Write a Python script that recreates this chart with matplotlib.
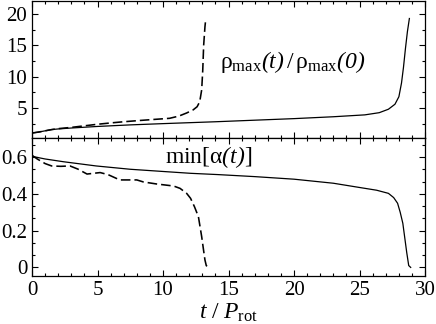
import matplotlib
matplotlib.use("Agg")
import matplotlib.pyplot as plt
from matplotlib.ticker import MultipleLocator, AutoMinorLocator

# data
t_rho_solid = [0, 0.5, 1, 1.5, 2, 3, 5, 7.5, 10, 12, 14, 17, 20, 23, 25.4, 26.5,
               27.2, 27.7, 28.0, 28.2, 28.35, 28.5, 28.65, 28.8]
rho_solid = [1.0, 1.15, 1.35, 1.55, 1.65, 1.8, 2.05, 2.3, 2.5, 2.65, 2.8, 3.05,
             3.3, 3.6, 3.9, 4.25, 4.8, 5.6, 6.8, 9.0, 11.5, 14.5, 17.2, 19.3]

t_rho_dash = [0, 0.5, 1, 1.5, 2, 3, 3.8, 5, 6.2, 7, 8.2, 9.5, 10.5, 11.2, 11.8,
              12.3, 12.6, 12.8, 12.95, 13.03, 13.1, 13.2, 13.25]
rho_dash = [1.0, 1.15, 1.35, 1.55, 1.7, 1.9, 2.1, 2.4, 2.65, 2.8, 3.0, 3.2, 3.35,
            3.7, 4.2, 4.7, 5.2, 6.0, 7.9, 11.0, 15.0, 18.0, 19.0]

t_alpha_solid = [0, 0.3, 1, 2.4, 4.9, 7.5, 10, 12.1, 14.2, 17, 20, 23, 24.9, 26.3,
                 27.2, 27.6, 27.9, 28.1, 28.3, 28.45, 28.6, 28.75, 28.9]
alpha_solid = [0.605, 0.6, 0.59, 0.575, 0.552, 0.534, 0.522, 0.512, 0.505, 0.494,
               0.48, 0.458, 0.436, 0.42, 0.403, 0.38, 0.349, 0.30, 0.24, 0.16,
               0.08, 0.01, 0.0]

t_alpha_dash = [0, 0.4, 1.0, 1.5, 2.2, 2.9, 3.5, 4.2, 5.2, 5.8, 6.7, 8.0, 8.5, 9.5,
                10.8, 11.3, 11.8, 12.1, 12.4, 12.7, 12.95, 13.1, 13.2, 13.3, 13.45]
alpha_dash = [0.61, 0.59, 0.565, 0.552, 0.55, 0.552, 0.535, 0.508, 0.516, 0.505,
              0.476, 0.476, 0.465, 0.454, 0.443, 0.43, 0.403, 0.376, 0.33, 0.276,
              0.167, 0.09, 0.04, 0.01, 0.0]

plt.rcParams["font.family"] = ["Liberation Serif", "DejaVu Serif"]
plt.rcParams["mathtext.fontset"] = "custom"
plt.rcParams["mathtext.rm"] = "Liberation Serif"
plt.rcParams["mathtext.it"] = "Liberation Serif:italic"
# sf slot used for italic digits/brackets (mathtext puts non-letters upright in \mathit)
plt.rcParams["mathtext.sf"] = "Liberation Serif:italic"

fig = plt.figure(figsize=(4.36, 3.24), dpi=100)
ax1 = fig.add_axes([0.0734, 0.574, 0.9016, 0.423])
ax2 = fig.add_axes([0.0734, 0.148, 0.9016, 0.426])

dash = (0, (6, 2.5))
ax1.plot(t_rho_solid, rho_solid, color="black", lw=0.9)
ax1.plot(t_rho_dash, rho_dash, color="black", lw=1.15, linestyle=dash)
ax2.plot(t_alpha_solid, alpha_solid, color="black", lw=0.9)
ax2.plot(t_alpha_dash, alpha_dash, color="black", lw=1.15, linestyle=dash)

ax1.set_ylim(0.2, 22.1)
ax2.set_ylim(-0.047, 0.704)
for ax in (ax1, ax2):
    ax.set_xlim(0, 30)
    ax.xaxis.set_major_locator(MultipleLocator(5))
    ax.xaxis.set_minor_locator(MultipleLocator(1))
    ax.tick_params(which="both", direction="in", top=True, right=True, labelsize=15, width=0.8)
    ax.tick_params(which="major", length=4.5)
    ax.tick_params(which="minor", length=2.5)
    for s in ax.spines.values():
        s.set_linewidth(0.9)

ax1.yaxis.set_major_locator(MultipleLocator(5))
ax1.yaxis.set_minor_locator(MultipleLocator(2.5))
ax1.tick_params(labelbottom=False)
ax2.yaxis.set_major_locator(MultipleLocator(0.2))
ax2.yaxis.set_minor_locator(AutoMinorLocator(3))
ax2.set_yticks([0, 0.2, 0.4, 0.6])
ax2.set_yticklabels(["0", "0.2", "0.4", "0.6"])

ax1.text(19.9, 12.3, r"$\mathrm{ρ_{max}}\mathsf{(t)}\,/\,\mathrm{ρ_{max}}\mathsf{(0)}$",
         fontsize=17, ha="center", va="center")
ax2.text(13.5, 0.60, r"$\mathrm{min[α}\mathsf{(t)}\mathrm{]}$", fontsize=17, ha="center", va="center")
ax2.set_xlabel(r"$t\ /\ P_{\mathrm{rot}}$", fontsize=17, labelpad=1)

fig.savefig("out.png", dpi=100)
